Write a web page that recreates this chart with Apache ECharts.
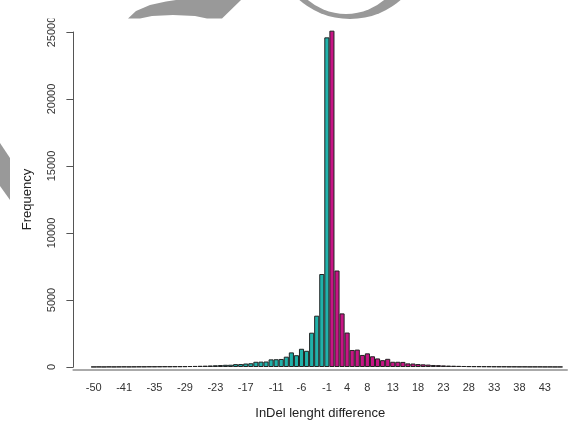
<!DOCTYPE html>
<html>
<head>
<meta charset="utf-8">
<script src="https://cdn.jsdelivr.net/npm/echarts@6/dist/echarts.min.js"></script>
<style>
html,body{margin:0;padding:0;background:#fff;}
#chart{width:570px;height:426px;}
</style>
</head>
<body>
<div id="chart"></div>
<script>
// InDel length difference categories (as present in the data)
const categories = [
  -50,-48,-47,-45,-43,-42,-41,-40,-39,-38,-37,-36,-35,-34,-33,-32,-31,-30,-29,-28,
  -27,-26,-25,-24,-23,-22,-21,-20,-19,-18,-17,-16,-15,-14,-13,-12,-11,-10,-9,-8,
  -7,-6,-5,-4,-3,-2,-1,
  1,2,3,4,5,6,7,8,9,10,11,12,13,14,15,16,17,18,19,20,
  21,22,23,24,25,26,27,28,29,30,31,32,33,34,35,36,37,38,39,40,
  41,42,43,44,45,47
];
// Frequency of each category
const frequency = [
  10,15,10,20,15,20,25,20,25,30,30,35,35,40,45,45,50,55,60,70,
  80,90,100,115,130,145,165,170,215,220,260,280,390,400,410,570,580,600,770,1090,
  880,1360,1210,2560,3830,6940,24600,
  25100,7200,4000,2570,1270,1300,900,1020,800,640,510,610,390,390,380,270,260,220,200,180,
  150,140,120,105,95,85,75,65,60,55,50,45,40,35,35,30,30,25,25,20,
  20,20,15,15,10,10
];
// x tick labels that are printed
const tickLabels = ['-50','-41','-35','-29','-23','-17','-11','-6','-1','4','8','13','18','23','28','33','38','43'];
// y axis ticks
const yTicks = [0, 5000, 10000, 15000, 20000, 25000];

const teal = '#20B2AA';
const magenta = '#C71585';

const chart = echarts.init(document.getElementById('chart'), null, {renderer: 'canvas'});
const fontFam = 'Liberation Sans, Arial, Helvetica, sans-serif';

const pitch = 5.1;          // px per bar
const gridLeft = 73.4;
const xMin = -4;
const xMax = xMin + (570 - gridLeft) / pitch;

chart.setOption({
  animation: false,
  backgroundColor: '#ffffff',
  grid: {left: gridLeft, top: 32, right: 0, height: 335, containLabel: false},
  xAxis: {
    type: 'value',
    min: xMin,
    max: xMax,
    interval: 1,
    offset: 2.5,
    axisLine: {show: true, onZero: false, lineStyle: {color: '#aaaaaa', width: 2}},
    axisTick: {show: false},
    splitLine: {show: false},
    axisLabel: {
      show: true,
      margin: 13,
      fontSize: 11,
      fontFamily: fontFam,
      color: '#333',
      hideOverlap: false,
      showMinLabel: true,
      showMaxLabel: true,
      formatter: function (v) {
        if (!Number.isInteger(v) || v < 0 || v >= categories.length) return '';
        const s = String(categories[v]);
        return tickLabels.includes(s) ? s : '';
      }
    },
    name: 'InDel lenght difference',
    nameLocation: 'middle',
    nameGap: 37,
    nameTextStyle: {fontSize: 13, fontFamily: fontFam, color: '#222'}
  },
  yAxis: {
    type: 'value',
    min: yTicks[0],
    max: yTicks[yTicks.length - 1],
    interval: yTicks[1] - yTicks[0],
    axisLine: {show: true, onZero: false, lineStyle: {color: '#555', width: 1}},
    axisTick: {show: true, length: 7, lineStyle: {color: '#555'}},
    splitLine: {show: false},
    axisLabel: {
      rotate: 90,
      margin: 16,
      fontSize: 11,
      fontFamily: fontFam,
      color: '#333',
      formatter: function (v) { return String(v); }
    },
    name: 'Frequency',
    nameLocation: 'middle',
    nameGap: 39,
    nameTextStyle: {fontSize: 13, fontFamily: fontFam, color: '#222'}
  },
  series: [{
    type: 'bar',
    clip: false,
    barWidth: pitch,
    data: frequency.map((v, i) => [i, v]),
    itemStyle: {
      color: function (p) { return categories[p.dataIndex] < 0 ? teal : magenta; },
      borderColor: '#222222',
      borderWidth: 1
    }
  }],
  graphic: [
    {type: 'rect', z: 100, shape: {x: 0, y: 0, width: 570, height: 18.5}, style: {fill: '#ffffff'}},
    {type: 'polygon', z: 101, shape: {points: [[128,18.5],[136,11],[150,5],[166,1.5],[176,0],[241,0],[222,18.5],[207,18.5],[195,16],[173,15],[152,16],[140,18.5]]}, style: {fill: '#999999'}},
    {type: 'circle', z: 101, shape: {cx: 350, cy: -58, r: 77}, style: {fill: '#999999'}},
    {type: 'circle', z: 102, shape: {cx: 346, cy: -45, r: 59}, style: {fill: '#ffffff'}},
    {type: 'polygon', z: 101, shape: {points: [[0,143],[10,158],[10,200],[0,186]]}, style: {fill: '#999999'}}
  ]
});
</script>
</body>
</html>
